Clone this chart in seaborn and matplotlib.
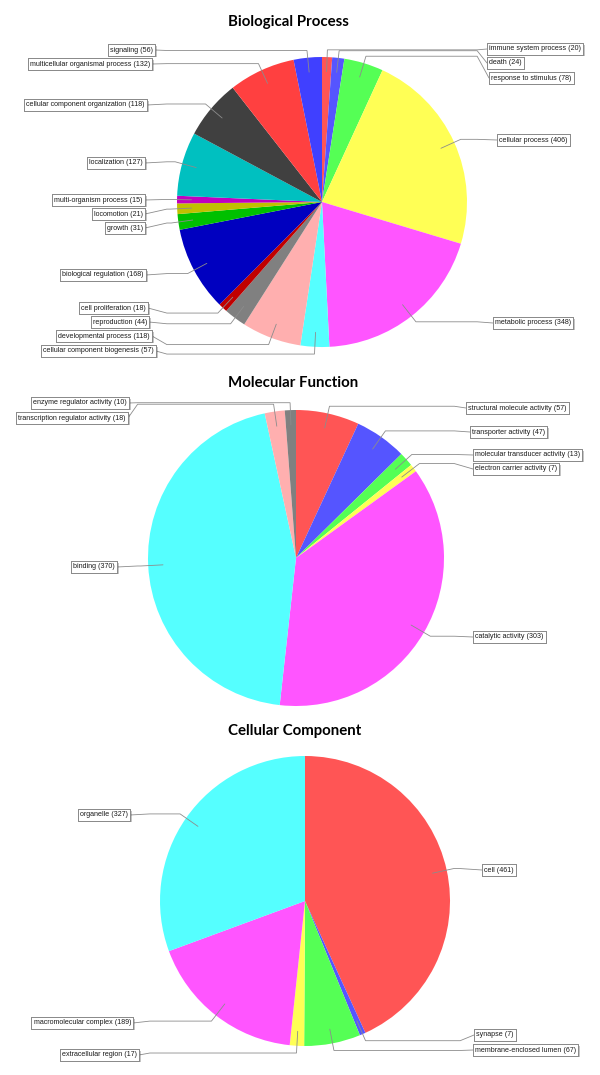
import matplotlib
matplotlib.use("Agg")

import numpy as np
import matplotlib.pyplot as plt
import matplotlib.patheffects as pe
import seaborn as sns

# ===========================
# DATA
# ===========================

bp_terms = [
    "immune system process", "death", "response to stimulus", "cellular process",
    "metabolic process", "cellular component biogenesis", "developmental process",
    "reproduction", "cell proliferation", "biological regulation", "growth",
    "locomotion", "multi-organism process", "localization",
    "cellular component organization", "multicellular organismal process", "signaling",
]
bp_counts = [20, 24, 78, 406, 348, 57, 118, 44, 18, 168, 31, 21, 15, 127, 118, 132, 56]

mf_terms = [
    "structural molecule activity", "transporter activity",
    "molecular transducer activity", "electron carrier activity",
    "catalytic activity", "binding", "transcription regulator activity",
    "enzyme regulator activity",
]
mf_counts = [57, 47, 13, 7, 303, 370, 18, 10]

cc_terms = [
    "cell", "synapse", "membrane-enclosed lumen", "extracellular region",
    "macromolecular complex", "organelle",
]
cc_counts = [461, 7, 67, 17, 189, 327]

# ===========================
# LAYOUT / STYLE (pixels, image coords)
# ===========================

W, H = 600, 1075

# default JFreeChart-like series colours, used in order
PALETTE = [
    "#FF5555", "#5555FF", "#55FF55", "#FFFF55", "#FF55FF", "#55FFFF",
    "#FFAFAF", "#808080", "#C00000", "#0000C0", "#00C000", "#C0C000",
    "#C000C0", "#00C0C0", "#404040", "#FF4040", "#4040FF",
]

# label box edge x and centre y, same order as the terms
bp_label_x = [487, 487, 489, 497, 493, 156, 152, 149, 148, 146, 145, 145, 145, 145, 147, 152, 155]
bp_label_y = [49, 63, 78, 140, 323, 351, 336, 322, 308, 275, 228, 214, 200, 163, 105, 64, 50]

mf_label_x = [466, 470, 473, 473, 473, 117, 128, 129]
mf_label_y = [408, 432, 455, 469, 637, 567, 418, 403]

cc_label_x = [482, 474, 473, 139, 133, 130]
cc_label_y = [870, 1035, 1050, 1055, 1023, 815]

LINK_COLOR = "#8c8c8c"
LABEL_FONT = ["Liberation Sans", "DejaVu Sans"]
TITLE_FONT = ["Lato", "DejaVu Sans"]


def draw_pie(ax, title, title_y, terms, counts, center, radius, label_x, label_y):
    cx, cy = center
    yc = H - cy
    wedges, _ = ax.pie(
        counts,
        colors=PALETTE[: len(counts)],
        startangle=90,
        counterclock=False,
        center=(cx, yc),
        radius=radius,
        wedgeprops=dict(linewidth=0),
    )

    for w, term, n, lx, ly in zip(wedges, terms, counts, label_x, label_y):
        th = np.deg2rad((w.theta1 + w.theta2) / 2)
        ix, iy = cx + 0.9 * radius * np.cos(th), yc + 0.9 * radius * np.sin(th)
        ex, ey = cx + 1.05 * radius * np.cos(th), yc + 1.05 * radius * np.sin(th)
        left = lx < cx
        ax_x = cx - 1.07 * radius if left else cx + 1.07 * radius
        ax.plot([ix, ex, ax_x, lx], [iy, ey, ey, H - ly], color=LINK_COLOR, lw=0.6,
                solid_joinstyle="miter")

        t = ax.text(
            lx - 2 if left else lx + 2, H - ly, f"{term} ({n})",
            ha="right" if left else "left", va="center",
            fontsize=5.1, family=LABEL_FONT, color="#1a1a1a",
            bbox=dict(boxstyle="square,pad=0.3", fc="white", ec="#808080", lw=0.6),
        )
        t.get_bbox_patch().set_path_effects([
            pe.withSimplePatchShadow(offset=(1.0, -1.0), shadow_rgbFace="k", alpha=0.25),
            pe.Normal(),
        ])

    ax.text(228, H - title_y, title, ha="left", va="center", fontsize=10.8,
            fontweight="bold", family=TITLE_FONT, color="black")


def main():
    sns.set_theme(style="white")
    plt.rcParams["font.family"] = ["Liberation Sans", "DejaVu Sans"]

    fig = plt.figure(figsize=(W / 100, H / 100), dpi=100)
    ax = fig.add_axes([0, 0, 1, 1])

    draw_pie(ax, "Biological Process", 22, bp_terms, bp_counts, (322, 202), 145,
             bp_label_x, bp_label_y)
    draw_pie(ax, "Molecular Function", 383, mf_terms, mf_counts, (296, 558), 148,
             mf_label_x, mf_label_y)
    draw_pie(ax, "Cellular Component", 731, cc_terms, cc_counts, (305, 901), 145,
             cc_label_x, cc_label_y)

    ax.set_xlim(0, W)
    ax.set_ylim(0, H)
    ax.set_aspect("equal")
    ax.axis("off")

    fig.savefig("out.png", dpi=100, facecolor="white")


if __name__ == "__main__":
    main()
